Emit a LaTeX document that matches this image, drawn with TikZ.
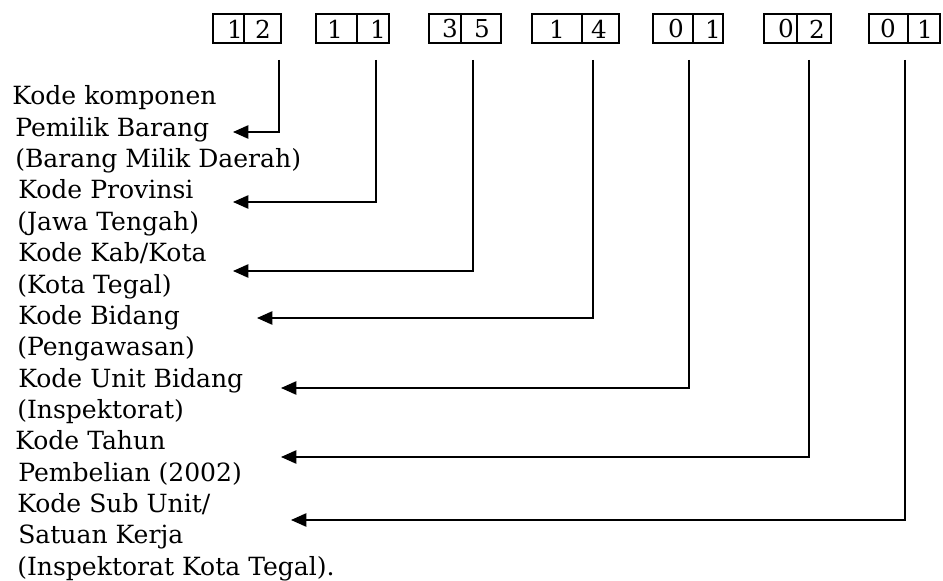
\documentclass[tikz,border=0pt]{standalone}
\usepackage{fontspec}
\setmainfont{DejaVu Serif}
\usetikzlibrary{arrows.meta}
\begin{document}
\begin{tikzpicture}[x=0.75pt,y=-0.75pt,
  lbl/.style={anchor=base west, inner sep=0pt, font=\fontsize{18.8}{22}\selectfont},
  dig/.style={inner sep=0pt, font=\fontsize{18.5}{22}\selectfont},
  cellbox/.style={draw, line width=1.15pt},
  conn/.style={line width=1.1pt, -{Triangle[length=11.5pt,width=10pt]}}]
\useasboundingbox (0,0) rectangle (943,581);

% code boxes
\foreach \a/\b/\c in {213/244/281, 316/357/389, 429/461/501, 532/582/619, 653/693/723, 764/797/831, 869/908/940}{
  \draw[cellbox] (\a,14) rectangle (\c,43);
  \draw[cellbox] (\b,14) -- (\b,43);
}
\node[dig] (d1a) at (235,29) {1};
\node[dig] (d1b) at (263,29) {2};
\node[dig] (d2a) at (335,29) {1};
\node[dig] (d2b) at (378,29) {1};
\node[dig] (d3a) at (450,29) {3};
\node[dig] (d3b) at (482,29) {5};
\node[dig] (d4a) at (557,29) {1};
\node[dig] (d4b) at (599,29) {4};
\node[dig] (d5a) at (676,29) {0};
\node[dig] (d5b) at (713,29) {1};
\node[dig] (d6a) at (786,29) {0};
\node[dig] (d6b) at (817,29) {2};
\node[dig] (d7a) at (888,29) {0};
\node[dig] (d7b) at (925,29) {1};

% labels
\node[lbl] (l1)  at (12,105) {Kode komponen};
\node[lbl] (l2)  at (15,136.3) {Pemilik Barang};
\node[lbl] (l3)  at (15,167.7) {(Barang Milik Daerah)};
\node[lbl] (l4)  at (18,199) {Kode Provinsi};
\node[lbl] (l5)  at (17,230.3) {(Jawa Tengah)};
\node[lbl] (l6)  at (18,261.7) {Kode Kab/Kota};
\node[lbl] (l7)  at (17,293) {(Kota Tegal)};
\node[lbl] (l8)  at (18,324.3) {Kode Bidang};
\node[lbl] (l9)  at (17,355.7) {(Pengawasan)};
\node[lbl] (l10) at (18,387) {Kode Unit Bidang};
\node[lbl] (l11) at (17,418.3) {(Inspektorat)};
\node[lbl] (l12) at (15,449.7) {Kode Tahun};
\node[lbl] (l13) at (18,481) {Pembelian (2002)};
\node[lbl] (l14) at (17,512.3) {Kode Sub Unit/};
\node[lbl] (l15) at (18,543.7) {Satuan Kerja};
\node[lbl] (l16) at (17,575) {(Inspektorat Kota Tegal).};

% connector ends
\coordinate (s1) at (279,60);  \coordinate (t1) at (233,132);
\coordinate (s2) at (376,60);  \coordinate (t2) at (233,202);
\coordinate (s3) at (473,60);  \coordinate (t3) at (233,271);
\coordinate (s4) at (593,60);  \coordinate (t4) at (257,318);
\coordinate (s5) at (689,60);  \coordinate (t5) at (281,388);
\coordinate (s6) at (809,60);  \coordinate (t6) at (281,457);
\coordinate (s7) at (905,60);  \coordinate (t7) at (291,520);

\foreach \i in {1,...,7}{
  \draw[conn] (s\i) |- (t\i);
}
\end{tikzpicture}
\end{document}
